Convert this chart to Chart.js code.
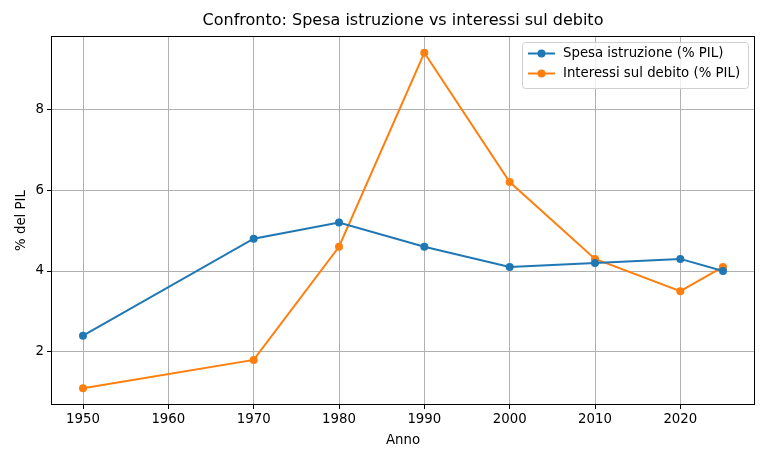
<!DOCTYPE html>
<html>
<head>
<meta charset="utf-8">
<script src="https://cdn.jsdelivr.net/npm/chart.js@4"></script>
<style>
  html, body { margin: 0; padding: 0; background: #fff; }
  #wrap { width: 768px; height: 461px; }
</style>
</head>
<body>
<div id="wrap"><canvas id="chart" width="768" height="461"></canvas></div>
<script>
// dati
const anni = [1950, 1970, 1980, 1990, 2000, 2010, 2020, 2025];
const spesaIstruzione = [2.4, 4.8, 5.2, 4.6, 4.1, 4.2, 4.3, 4.0];
const interessiDebito = [1.1, 1.8, 4.6, 9.4, 6.2, 4.3, 3.5, 4.1];
const xTicks = [1950, 1960, 1970, 1980, 1990, 2000, 2010, 2020];
const yTicks = [2, 4, 6, 8];

const FONT = "'DejaVu Sans', sans-serif";
const BLUE = '#1f77b4';
const ORANGE = '#ff7f0e';

function toPoints(ys) {
    return anni.map((x, i) => ({ x: x, y: ys[i] }));
}

// titolo, bordo e legenda dentro l'area del grafico
const decorations = {
    id: 'decorations',
    afterDraw(chart) {
        const ctx = chart.ctx;
        const a = chart.chartArea;
        ctx.save();
        ctx.strokeStyle = '#000';
        ctx.lineWidth = 1;
        ctx.strokeRect(a.left + 0.5, a.top + 0.5, a.right - a.left - 1, a.bottom - a.top - 1);

        ctx.fillStyle = '#000';
        ctx.font = '16px ' + FONT;
        ctx.textAlign = 'center';
        ctx.textBaseline = 'middle';
        ctx.fillText('Confronto: Spesa istruzione vs interessi sul debito', (a.left + a.right) / 2, 21);

        // legenda
        const bx = 522, by = 42, bw = 226, bh = 46;
        ctx.fillStyle = 'rgba(255,255,255,0.8)';
        ctx.strokeStyle = '#d0d0d0';
        ctx.beginPath();
        ctx.roundRect(bx + 0.5, by + 0.5, bw, bh, 3);
        ctx.fill();
        ctx.stroke();
        chart.data.datasets.forEach((ds, i) => {
            const y = by + 11.5 + i * 20;
            ctx.strokeStyle = ds.borderColor;
            ctx.lineWidth = 2;
            ctx.beginPath();
            ctx.moveTo(bx + 6, y);
            ctx.lineTo(bx + 33, y);
            ctx.stroke();
            ctx.fillStyle = ds.backgroundColor;
            ctx.beginPath();
            ctx.arc(bx + 19.5, y, 4, 0, Math.PI * 2);
            ctx.fill();
            ctx.fillStyle = '#000';
            ctx.font = '13.3px ' + FONT;
            ctx.textAlign = 'left';
            ctx.textBaseline = 'middle';
            ctx.fillText(ds.label, bx + 41, y);
        });
        ctx.restore();
    }
};

new Chart(document.getElementById('chart'), {
    type: 'line',
    data: {
        datasets: [{
            label: 'Spesa istruzione (% PIL)',
            data: toPoints(spesaIstruzione),
            borderColor: BLUE,
            backgroundColor: BLUE,
            borderWidth: 2,
            pointRadius: 4,
            pointBorderWidth: 0,
            tension: 0
        }, {
            label: 'Interessi sul debito (% PIL)',
            data: toPoints(interessiDebito),
            borderColor: ORANGE,
            backgroundColor: ORANGE,
            borderWidth: 2,
            pointRadius: 4,
            pointBorderWidth: 0,
            tension: 0
        }]
    },
    options: {
        responsive: false,
        animation: false,
        devicePixelRatio: 1,
        layout: { padding: { top: 36, right: 13, left: 0, bottom: 0 } },
        plugins: {
            legend: { display: false },
            title: { display: false },
            tooltip: { enabled: false }
        },
        scales: {
            x: {
                type: 'linear',
                min: 1946.25,
                max: 2028.75,
                afterBuildTicks(scale) {
                    scale.ticks = xTicks.map(v => ({ value: v }));
                },
                afterFit(scale) { scale.height = 56; },
                grid: { color: '#b0b0b0', lineWidth: 1, tickLength: 4, tickColor: '#000' },
                border: { display: false },
                ticks: {
                    color: '#000',
                    font: { family: FONT, size: 13.3 },
                    padding: 3,
                    maxRotation: 0,
                    callback: v => String(v)
                },
                title: {
                    display: true,
                    text: 'Anno',
                    color: '#000',
                    font: { family: FONT, size: 13.3 },
                    padding: { top: 0, bottom: 12 }
                }
            },
            y: {
                min: 0.685,
                max: 9.815,
                afterBuildTicks(scale) {
                    scale.ticks = yTicks.map(v => ({ value: v }));
                },
                afterFit(scale) { scale.width = 51; },
                grid: { color: '#b0b0b0', lineWidth: 1, tickLength: 4, tickColor: '#000' },
                border: { display: false },
                ticks: {
                    color: '#000',
                    font: { family: FONT, size: 13.3 },
                    padding: 3,
                    callback: v => String(v)
                },
                title: {
                    display: true,
                    text: '% del PIL',
                    color: '#000',
                    font: { family: FONT, size: 13.3 },
                    padding: { top: 14, bottom: 0 }
                }
            }
        }
    },
    plugins: [decorations]
});
</script>
</body>
</html>
